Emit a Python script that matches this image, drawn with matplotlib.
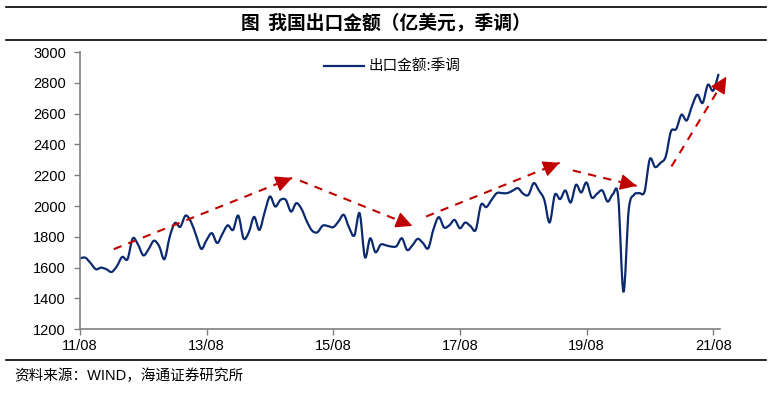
import matplotlib
matplotlib.use('Agg')
import matplotlib.pyplot as plt
from matplotlib.path import Path
from matplotlib.patches import PathPatch
from matplotlib.lines import Line2D
import numpy as np

plt.rcParams['font.family'] = ['Liberation Sans', 'Noto Sans CJK SC', 'DejaVu Sans']

# Monthly exports, seasonally adjusted (100 million USD), 2011/08 .. 2021/09
exports = [
    1660, 1665, 1630, 1590, 1600, 1590, 1572, 1610, 1670, 1655,
    1790, 1750, 1680, 1720, 1775, 1740, 1655, 1800, 1890, 1865,
    1938, 1900, 1810, 1722, 1780, 1824, 1760, 1820, 1875, 1845,
    1938, 1790, 1830, 1930, 1845, 1960, 2062, 1997, 2040, 2040,
    1964, 2019, 1980, 1900, 1840, 1830, 1873, 1870, 1863, 1900,
    1943, 1860, 1809, 1953, 1668, 1791, 1700, 1750, 1745, 1737,
    1740, 1791, 1715, 1745, 1787, 1760, 1726, 1850, 1928, 1861,
    1875, 1910, 1856, 1893, 1870, 1845, 2008, 1993, 2040, 2084,
    2084, 2084, 2100, 2116, 2080, 2073, 2149, 2100, 2040, 1893,
    2073, 2045, 2101, 2023, 2138, 2088, 2153, 2055, 2080, 2101,
    2029, 2077, 2062, 1444, 1975, 2073, 2084, 2094, 2305, 2253,
    2280, 2320, 2484, 2500, 2593, 2556, 2650, 2723, 2669, 2787,
    2749, 2853,
]
tick_labels = ['11/08', '13/08', '15/08', '17/08', '19/08', '21/08']
tick_months = [0, 24, 48, 72, 96, 120]
y_ticks = [1200, 1400, 1600, 1800, 2000, 2200, 2400, 2600, 2800, 3000]

# trend arrows: (start month, start value, end month, end value)
trend_start_x = [6.4, 41.7, 65.6, 93.4, 112.1]
trend_start_y = [1720, 2165, 1932, 2231, 2257]
trend_end_x = [40.2, 63.0, 90.9, 105.5, 122.5]
trend_end_y = [2183, 1871, 2281, 2131, 2840]

navy = '#0B2A6F'
red = '#C00000'

fig = plt.figure(figsize=(7.72, 3.94), dpi=100)
ax = fig.add_axes([80 / 772, 1 - 329.3 / 394, 640 / 772, 277.3 / 394])
ax.set_xlim(0, 121.3)
ax.set_ylim(1200, 3000)

# smoothed line (Excel style) built from the monthly points
x = np.arange(len(exports), dtype=float)
y = np.array(exports, dtype=float)
verts = [(x[0], y[0])]
codes = [Path.MOVETO]
for i in range(len(x) - 1):
    p0 = i - 1 if i > 0 else i
    p3 = i + 2 if i + 2 < len(x) else i + 1
    c1 = (x[i] + (x[i + 1] - x[p0]) / 6, y[i] + (y[i + 1] - y[p0]) / 6)
    c2 = (x[i + 1] - (x[p3] - x[i]) / 6, y[i + 1] - (y[p3] - y[i]) / 6)
    verts += [c1, c2, (x[i + 1], y[i + 1])]
    codes += [Path.CURVE4] * 3
ax.add_patch(PathPatch(Path(verts, codes), facecolor='none', edgecolor=navy,
                       lw=1.6, capstyle='round', joinstyle='round'))

# dashed red trend arrows with solid heads
head_pt = 10.0
for sx, sy, ex, ey in zip(trend_start_x, trend_start_y, trend_end_x, trend_end_y):
    p0 = ax.transData.transform((sx, sy))
    p1 = ax.transData.transform((ex, ey))
    d = (p1 - p0) / np.hypot(*(p1 - p0))
    ax.plot([sx, ex], [sy, ey], color=red, lw=1.5, ls=(0, (4, 3.5)), clip_on=False)
    ax.annotate('', xy=(ex, ey), xytext=(-d[0] * head_pt, -d[1] * head_pt),
                textcoords='offset points', annotation_clip=False,
                arrowprops=dict(arrowstyle='-|>,head_length=0.85,head_width=0.42',
                                color=red, lw=1.0, shrinkA=0, shrinkB=0,
                                mutation_scale=12))

ax.set_xticks(tick_months)
ax.set_xticklabels(tick_labels)
ax.set_yticks(y_ticks)
ax.tick_params(axis='both', labelsize=10.5, colors='#808080', labelcolor='black',
               direction='out', length=4, width=1)
ax.tick_params(axis='x', pad=3)
ax.tick_params(axis='y', pad=6)
for s in ['top', 'right']:
    ax.spines[s].set_visible(False)
for s in ['left', 'bottom']:
    ax.spines[s].set_color('#808080')
    ax.spines[s].set_linewidth(1.2)

handle = Line2D([], [], color=navy, lw=1.6)
ax.legend([handle], ['出口金额:季调'], loc='center left',
          bbox_to_anchor=(0.36, 0.946), frameon=False, handlelength=2.8,
          handletextpad=0.3, prop={'family': ['Noto Sans CJK SC'], 'size': 10.5})

# title band and footer
fig.add_artist(Line2D([6 / 772, 766 / 772], [1 - 7 / 394, 1 - 7 / 394], color='black', lw=1.2))
fig.add_artist(Line2D([6 / 772, 766 / 772], [1 - 40 / 394, 1 - 40 / 394], color='black', lw=1.2))
fig.add_artist(Line2D([6 / 772, 766 / 772], [1 - 360 / 394, 1 - 360 / 394], color='black', lw=1.2))
fig.text(0.5, 1 - 23.5 / 394, '图  我国出口金额（亿美元，季调）', ha='center', va='center',
         fontsize=13.5, fontweight='bold', family=['Noto Sans CJK SC', 'DejaVu Sans'])
fig.text(14 / 772, 1 - 376 / 394, '资料来源：WIND，海通证券研究所', ha='left', va='center',
         fontsize=10.5, family=['Liberation Sans', 'Noto Sans CJK SC', 'DejaVu Sans'])

fig.savefig('out.png', dpi=100)
